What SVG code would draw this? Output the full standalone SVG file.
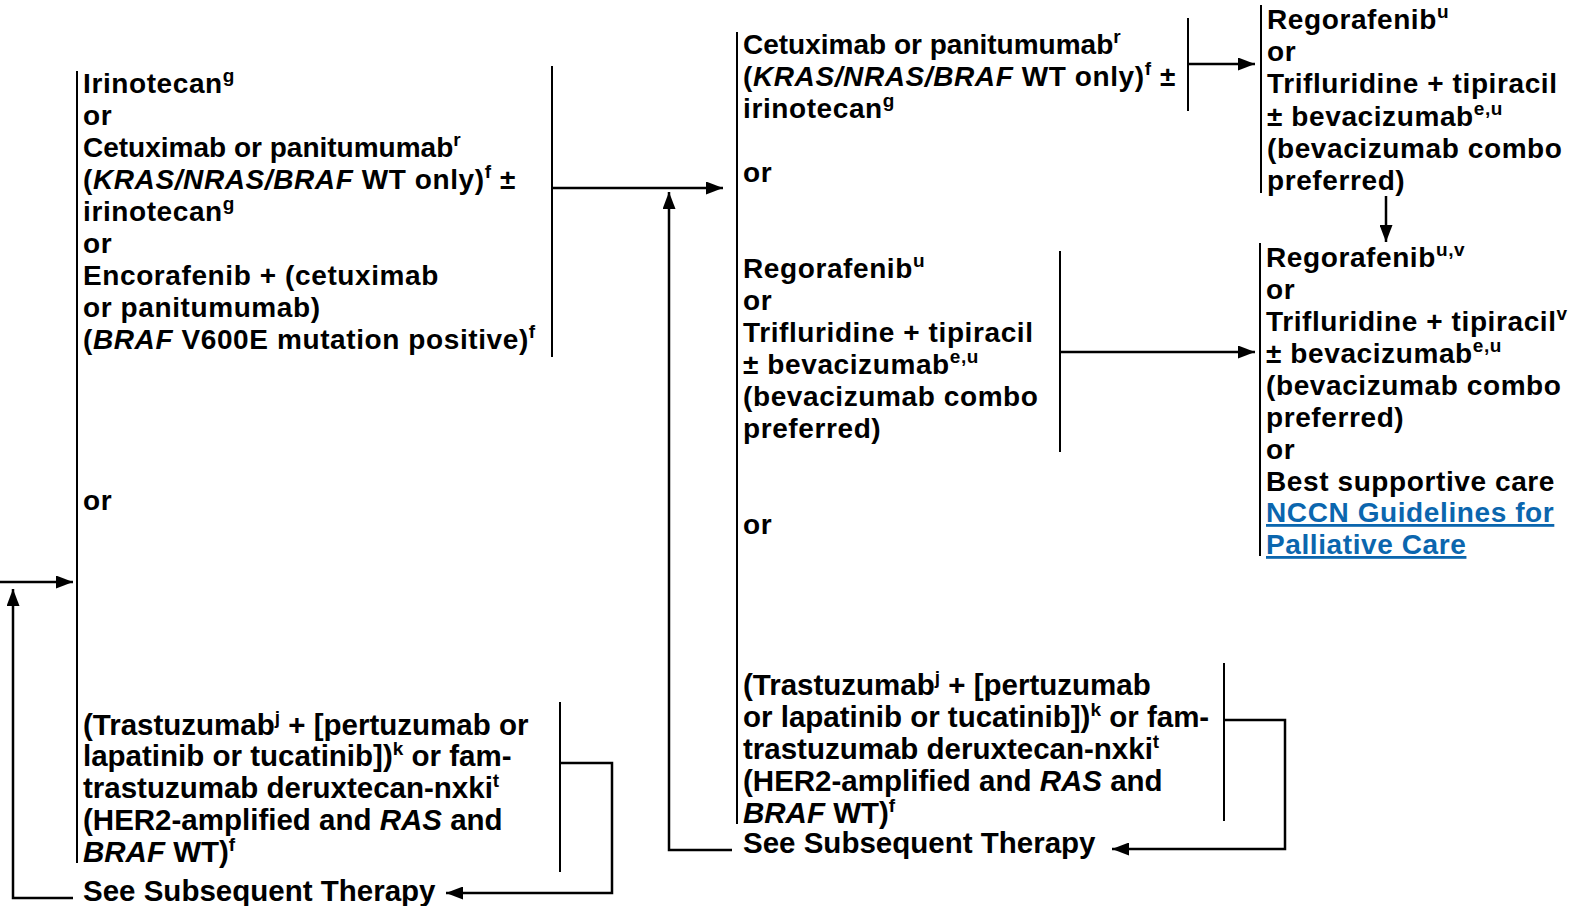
<svg xmlns="http://www.w3.org/2000/svg" width="1589" height="906" viewBox="0 0 1589 906">
<style>
.t{font-family:"Liberation Sans",Arial,Helvetica,sans-serif;font-weight:bold;font-size:28px;letter-spacing:0.6px;fill:#000}
.h{font-size:29.5px;letter-spacing:0}
.n{letter-spacing:0}
.s{font-size:19px}
.i{font-style:italic}
.lk{fill:#0b66ae;text-decoration:underline}
.ln{stroke:#000;stroke-width:2.5;fill:none}
.bar{stroke:#000;stroke-width:2;fill:none}
</style>
<defs>
<marker id="ah" markerUnits="userSpaceOnUse" markerWidth="17" markerHeight="13" refX="17" refY="6.5" orient="auto">
<path d="M0,0 L17,6.5 L0,13 z" fill="#000"/>
</marker>
</defs>
<rect width="1589" height="906" fill="#fff"/>

<g id="connectors">
<path class="ln" d="M0,582 H73" marker-end="url(#ah)"/>
<path class="ln" d="M73,898 H13 V589" marker-end="url(#ah)"/>
<line class="bar" x1="552" y1="66" x2="552" y2="357"/>
<path class="ln" d="M552,188 H723" marker-end="url(#ah)"/>
<line class="bar" x1="560" y1="702" x2="560" y2="872"/>
<path class="ln" d="M560,763 H612 V893 H446" marker-end="url(#ah)"/>
<path class="ln" d="M732,850 H669 V192" marker-end="url(#ah)"/>
<line class="bar" x1="1188" y1="18" x2="1188" y2="111"/>
<path class="ln" d="M1188,64 H1255" marker-end="url(#ah)"/>
<line class="bar" x1="1060" y1="251" x2="1060" y2="452"/>
<path class="ln" d="M1060,352 H1255" marker-end="url(#ah)"/>
<line class="bar" x1="1224" y1="663" x2="1224" y2="821"/>
<path class="ln" d="M1224,720 H1285 V849 H1112" marker-end="url(#ah)"/>
<path class="ln" d="M1386,196 V242" marker-end="url(#ah)"/>
</g>

<g id="col1-bar"><line class="bar" x1="77" y1="71" x2="77" y2="863"/></g>

<g id="c1-options">
<text class="t" x="83" y="93">Irinotecan<tspan class="s" dy="-11">g</tspan></text>
<text class="t" x="83" y="125">or</text>
<text class="t n" x="83" y="157">Cetuximab or panitumumab<tspan class="s" dy="-11">r</tspan></text>
<text class="t" x="83" y="189">(<tspan class="i">KRAS/NRAS/BRAF</tspan> WT only)<tspan class="s" dy="-11">f</tspan><tspan dy="11"> ±</tspan></text>
<text class="t" x="83" y="221">irinotecan<tspan class="s" dy="-11">g</tspan></text>
<text class="t" x="83" y="253">or</text>
<text class="t" x="83" y="285">Encorafenib + (cetuximab</text>
<text class="t" x="83" y="317">or panitumumab)</text>
<text class="t" x="83" y="349">(<tspan class="i">BRAF</tspan> V600E mutation positive)<tspan class="s" dy="-11">f</tspan></text>
</g>

<g id="c1-or"><text class="t" x="83" y="510">or</text></g>

<g id="c1-her2">
<text class="t h" x="83" y="735">(Trastuzumab<tspan class="s" dy="-11">j</tspan><tspan dy="11"> + [pertuzumab or</tspan></text>
<text class="t h" x="83" y="766">lapatinib or tucatinib])<tspan class="s" dy="-11">k</tspan><tspan dy="11"> or fam-</tspan></text>
<text class="t h" x="83" y="798">trastuzumab deruxtecan-nxki<tspan class="s" dy="-11">t</tspan></text>
<text class="t h" x="83" y="830">(HER2-amplified and <tspan class="i">RAS</tspan> and</text>
<text class="t h" x="83" y="862"><tspan class="i">BRAF</tspan> WT)<tspan class="s" dy="-11">f</tspan></text>
</g>

<g id="c1-see"><text class="t h" x="83" y="901">See Subsequent Therapy</text></g>

<g id="col2-bar"><line class="bar" x1="737" y1="32" x2="737" y2="824"/></g>

<g id="c2-cetux">
<text class="t n" x="743" y="54">Cetuximab or panitumumab<tspan class="s" dy="-11">r</tspan></text>
<text class="t" x="743" y="86">(<tspan class="i">KRAS/NRAS/BRAF</tspan> WT only)<tspan class="s" dy="-11">f</tspan><tspan dy="11"> ±</tspan></text>
<text class="t" x="743" y="118">irinotecan<tspan class="s" dy="-11">g</tspan></text>
</g>

<g id="c2-or1"><text class="t" x="743" y="182">or</text></g>

<g id="c2-rego">
<text class="t" x="743" y="278">Regorafenib<tspan class="s" dy="-11">u</tspan></text>
<text class="t" x="743" y="310">or</text>
<text class="t" x="743" y="342">Trifluridine + tipiracil</text>
<text class="t" x="743" y="374">± bevacizumab<tspan class="s" dy="-11">e,u</tspan></text>
<text class="t" x="743" y="406">(bevacizumab combo</text>
<text class="t" x="743" y="438">preferred)</text>
</g>

<g id="c2-or2"><text class="t" x="743" y="534">or</text></g>

<g id="c2-her2">
<text class="t h" x="743" y="695">(Trastuzumab<tspan class="s" dy="-11">j</tspan><tspan dy="11"> + [pertuzumab</tspan></text>
<text class="t h" x="743" y="727">or lapatinib or tucatinib])<tspan class="s" dy="-11">k</tspan><tspan dy="11"> or fam-</tspan></text>
<text class="t h" x="743" y="759">trastuzumab deruxtecan-nxki<tspan class="s" dy="-11">t</tspan></text>
<text class="t h" x="743" y="791">(HER2-amplified and <tspan class="i">RAS</tspan> and</text>
<text class="t h" x="743" y="823"><tspan class="i">BRAF</tspan> WT)<tspan class="s" dy="-11">f</tspan></text>
</g>

<g id="c2-see"><text class="t h" x="743" y="853">See Subsequent Therapy</text></g>

<g id="c3-top">
<line class="bar" x1="1261" y1="5" x2="1261" y2="193"/>
<text class="t" x="1267" y="29">Regorafenib<tspan class="s" dy="-11">u</tspan></text>
<text class="t" x="1267" y="61">or</text>
<text class="t" x="1267" y="93">Trifluridine + tipiracil</text>
<text class="t" x="1267" y="126">± bevacizumab<tspan class="s" dy="-11">e,u</tspan></text>
<text class="t" x="1267" y="158">(bevacizumab combo</text>
<text class="t" x="1267" y="190">preferred)</text>
</g>

<g id="c3-bottom">
<line class="bar" x1="1260" y1="243" x2="1260" y2="556"/>
<text class="t" x="1266" y="267">Regorafenib<tspan class="s" dy="-11">u,v</tspan></text>
<text class="t" x="1266" y="299">or</text>
<text class="t" x="1266" y="331">Trifluridine + tipiracil<tspan class="s" dy="-11">v</tspan></text>
<text class="t" x="1266" y="363">± bevacizumab<tspan class="s" dy="-11">e,u</tspan></text>
<text class="t" x="1266" y="395">(bevacizumab combo</text>
<text class="t" x="1266" y="427">preferred)</text>
<text class="t" x="1266" y="459">or</text>
<text class="t" x="1266" y="491">Best supportive care</text>
<text class="t lk" x="1266" y="522">NCCN Guidelines for </text>
<text class="t lk" x="1266" y="554">Palliative Care</text>
</g>
</svg>
